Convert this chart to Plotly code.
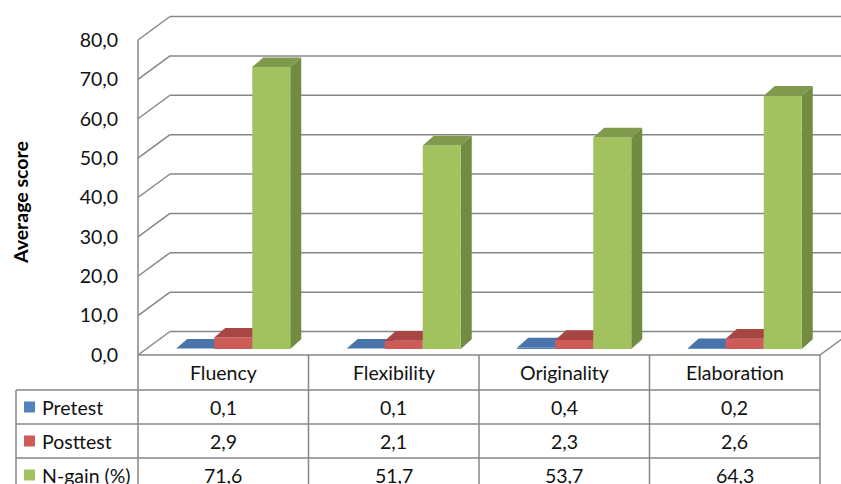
import plotly.graph_objects as go

# ---- data -------------------------------------------------------------
categories = ["Fluency", "Flexibility", "Originality", "Elaboration"]
series_names = ["Pretest", "Posttest", "N-gain (%)"]
pretest = [0.1, 0.1, 0.4, 0.2]
posttest = [2.9, 2.1, 2.3, 2.6]
ngain = [71.6, 51.7, 53.7, 64.3]
y_ticks = [0, 10, 20, 30, 40, 50, 60, 70, 80]
y_title = "Average score"

series_values = [pretest, posttest, ngain]

# ---- styling ------------------------------------------------------------
front_colors = ["#4f81bd", "#cd5b57", "#a2c15f"]
top_colors = ["#4873ab", "#a84644", "#7f9a4b"]
side_colors = ["#3d6496", "#953c3a", "#718c40"]
grid_color = "#868686"
table_color = "#868686"
FONT = "Lato"

W, H = 841, 484
OX, OY = 138, 355          # pixel spot of (category 0, value 0) on the front plane
CAT_PX = 170.5             # pixels per category
VAL_PX = 3.9375            # pixels per value unit


def px_x(p):
    return (p - OX) / CAT_PX


def px_y(p):
    return (OY - p) / VAL_PX


X_MIN, X_MAX = px_x(0), px_x(W)
Y_MIN, Y_MAX = px_y(H), px_y(0)

# oblique depth offsets
WALL_DX, WALL_DY = 32 / CAT_PX, 23.5 / VAL_PX
PLANE_DX, PLANE_DY = 10 / CAT_PX, 6 / VAL_PX
BAR_DX, BAR_DY = 11 / CAT_PX, 9.7 / VAL_PX
BAR_W = 38 / CAT_PX

fig = go.Figure()

# ---- 3D columns ---------------------------------------------------------
def poly(xs, ys, color):
    fig.add_trace(go.Scatter(
        x=xs + [xs[0]], y=ys + [ys[0]], mode="lines", fill="toself",
        fillcolor=color, line=dict(width=0, color=color),
        hoverinfo="skip", showlegend=False))


for i, _ in enumerate(categories):
    for j, vals in enumerate(series_values):
        v = vals[i]
        x0 = i + 0.5 - 1.5 * BAR_W + j * BAR_W + PLANE_DX
        x1 = x0 + BAR_W
        y0 = PLANE_DY
        y1 = PLANE_DY + v
        # side face
        poly([x1, x1 + BAR_DX, x1 + BAR_DX, x1],
             [y0, y0 + BAR_DY, y1 + BAR_DY, y1], side_colors[j])
        # front face
        poly([x0, x1, x1, x0], [y0, y0, y1, y1], front_colors[j])
        # top face
        poly([x0, x1, x1 + BAR_DX, x0 + BAR_DX],
             [y1, y1, y1 + BAR_DY, y1 + BAR_DY], top_colors[j])

shapes = []


def line(xa, ya, xb, yb, color, width=1.5, layer="below"):
    shapes.append(dict(type="line", xref="x", yref="y", x0=xa, y0=ya, x1=xb, y1=yb,
                       line=dict(color=color, width=width), layer=layer))


# ---- walls and gridlines ----------------------------------------------
for v in y_ticks:
    line(0, v, WALL_DX, v + WALL_DY, grid_color)
    line(WALL_DX, v + WALL_DY, X_MAX + 0.1, v + WALL_DY, grid_color)
n_cat = len(categories)
line(n_cat, 0, n_cat + WALL_DX, WALL_DY, grid_color)
# front-left edge of the side wall, continuing down through the table
line(0, y_ticks[-1], 0, Y_MIN - 1, grid_color)

# ---- data table -----------------------------------------------------------
row_px = [355, 390, 424, 458, 492]
legend_left = px_x(16)
line(0, px_y(row_px[0]), n_cat, px_y(row_px[0]), table_color, layer="above")
for r in row_px[1:4]:
    line(legend_left, px_y(r), n_cat, px_y(r), table_color, layer="above")
line(legend_left, px_y(row_px[1]), legend_left, Y_MIN - 1, table_color, layer="above")
for c in range(1, n_cat + 1):
    line(c, px_y(row_px[0]), c, Y_MIN - 1, table_color, layer="above")

annotations = []
text_font = dict(family=FONT, size=19.5, color="#111111")


def mid(r):
    return px_y((row_px[r] + row_px[r + 1]) / 2)


for i, cat in enumerate(categories):
    annotations.append(dict(x=i + 0.5, y=mid(0), text=cat, showarrow=False,
                            xref="x", yref="y", font=text_font))
    for j, vals in enumerate(series_values):
        annotations.append(dict(x=i + 0.5, y=mid(j + 1),
                                text=f"{vals[i]:.1f}".replace(".", ","),
                                showarrow=False, xref="x", yref="y", font=text_font))

for j, name in enumerate(series_names):
    yc = mid(j + 1)
    shapes.append(dict(type="rect", xref="x", yref="y",
                       x0=px_x(24), x1=px_x(35), y0=yc - 5.5 / VAL_PX, y1=yc + 5.5 / VAL_PX,
                       fillcolor=front_colors[j], line=dict(width=0), layer="above"))
    annotations.append(dict(x=px_x(40), y=yc, text=name, showarrow=False, xanchor="left",
                            xref="x", yref="y", font=text_font))

annotations.append(dict(x=px_x(20), y=px_y(203), text=f"<b>{y_title}</b>", textangle=-90,
                        showarrow=False, xref="x", yref="y",
                        font=dict(family=FONT, size=19.5, color="#000000")))

fig.update_layout(
    width=W, height=H,
    margin=dict(l=0, r=0, t=0, b=0),
    paper_bgcolor="white", plot_bgcolor="white",
    separators=", ",
    showlegend=False,
    shapes=shapes,
    annotations=annotations,
    xaxis=dict(range=[X_MIN, X_MAX], visible=False, fixedrange=True),
    yaxis=dict(range=[Y_MIN, Y_MAX], anchor="free", position=OX / W,
               tickvals=y_ticks, tickformat=".1f", ticks="",
               ticklabelstandoff=20, showgrid=False, zeroline=False, showline=False,
               tickfont=dict(family=FONT, size=19.5, color="#111111"), fixedrange=True),
)

fig.write_html("out.html")
